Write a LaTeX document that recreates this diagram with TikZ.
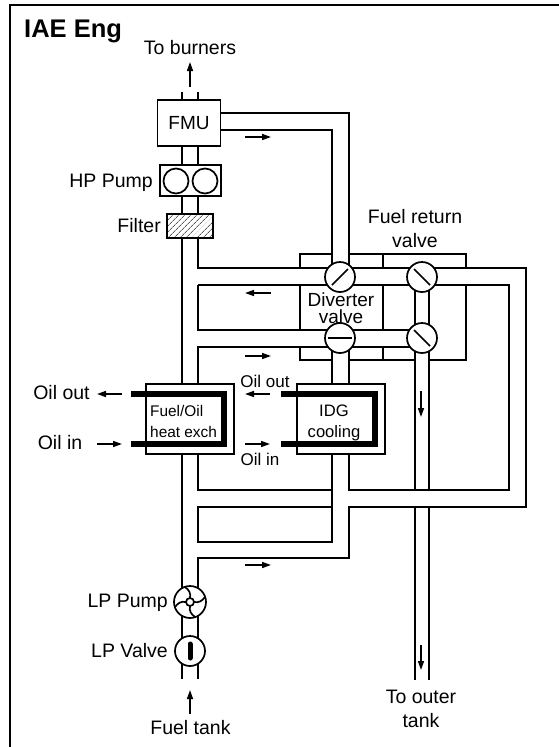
\documentclass[tikz,border=0pt]{standalone}
\usepackage{fontspec}
\setmainfont{Liberation Sans}
\usetikzlibrary{arrows.meta,patterns.meta}
\tikzset{
  pipe/.style={line width=1.7pt,line cap=butt,line join=miter},
  oil/.style={line width=6pt,line join=miter},
  flow/.style={line width=1.5pt,-{Triangle[length=9pt,width=6pt]}},
  unit/.style={draw,line width=1.7pt,fill=white,inner sep=0pt},
  valve/.style={circle,draw,line width=1.7pt,fill=white,inner sep=0pt},
  lbl/.style={inner sep=0pt,anchor=base,font=\fontsize{19.5}{20}\selectfont},
  small/.style={inner sep=0pt,anchor=base,font=\fontsize{17}{18}\selectfont},
  tiny/.style={inner sep=0pt,anchor=base west,font=\fontsize{15.4}{16}\selectfont},
}
\begin{document}
\begin{tikzpicture}[x=1pt,y=-1pt]
  \useasboundingbox (0,0) rectangle (559,747);
  \draw[line width=2pt] (10,747) -- (10,5) -- (559,5);
  % pipe walls
  \draw[pipe] (182,92) -- (182,679);
  \draw[pipe] (198,92) -- (198,268) -- (526,268) -- (526,507) -- (349,507)
    -- (349,558) -- (198,558) -- (198,679);
  \draw[pipe] (198,285) -- (509,285) -- (509,490) -- (349,490) -- (349,338);
  \draw[pipe] (198,285) -- (198,330) -- (422,330);
  \draw[pipe] (422,347) -- (198,347) -- (198,490) -- (332,490);
  \draw[pipe] (332,507) -- (198,507) -- (198,542) -- (332,542) -- (332,338);
  \draw[pipe] (221,113) -- (349,113) -- (349,277);
  \draw[pipe] (221,130) -- (332,130) -- (332,277);
  \draw[pipe] (415,277) -- (415,490);
  \draw[pipe] (429,277) -- (429,490);
  \draw[pipe] (415,507) -- (415,680);
  \draw[pipe] (429,507) -- (429,680);
  % valve blocks
  \draw[pipe] (300,268) -- (300,254) -- (332,254);
  \draw[pipe] (349,254) -- (466,254) -- (466,268);
  \draw[pipe] (383,254) -- (383,268);
  \draw[pipe] (300,285) -- (300,330);
  \draw[pipe] (383,285) -- (383,330);
  \draw[pipe] (466,285) -- (466,360) -- (429,360);
  \draw[pipe] (415,360) -- (349,360);
  \draw[pipe] (332,360) -- (300,360) -- (300,347);
  \draw[pipe] (383,347) -- (383,360);
  % units
  \node[unit,minimum width=63pt,minimum height=46pt,font=\fontsize{19}{20}\selectfont] (fmu) at (189,123) {FMU};
  \node[unit,minimum width=61pt,minimum height=31pt] (hp) at (190.5,180.5) {};
  \node[valve,minimum size=25pt] (hpa) at (176,181) {};
  \node[valve,minimum size=25pt] (hpb) at (205,181) {};
  \node[unit,minimum width=46pt,minimum height=24pt,preaction={fill=white},
    pattern={Lines[angle=45,distance=4pt,line width=.6pt]}] (filter) at (190,226) {};
  \node[unit,minimum width=88pt,minimum height=70pt] (heat) at (190,419) {};
  \node[unit,minimum width=88pt,minimum height=70pt] (idg) at (341,419) {};
  \draw[oil] (131,394) -- (224,394) -- (224,444) -- (131,444);
  \draw[oil] (281,394) -- (375,394) -- (375,444) -- (281,444);
  % valves
  \node[valve,minimum size=30pt] (dva) at (340,277) {};
  \node[valve,minimum size=30pt] (dvb) at (340,338) {};
  \node[valve,minimum size=30pt] (fra) at (422,277) {};
  \node[valve,minimum size=30pt] (frb) at (422,338) {};
  \draw[pipe] (dva) ++(-8,8) -- ++(16,-16);
  \draw[pipe] (dvb) ++(-12,0) -- ++(24,0);
  \foreach \v in {fra,frb}
    \draw[pipe] (\v) ++(-8,-8) -- ++(16,16);
  \node[valve,minimum size=32pt] (lpp) at (190,602) {};
  \foreach \a in {0,90,180,270}
    \draw[pipe,shift={(190,602)},rotate=\a] (0,-4) .. controls (1,-9) and (-1,-12) .. (-5,-15);
  \node[valve,minimum size=8pt] (hub) at (190,602) {};
  \node[valve,minimum size=30pt] (lpv) at (190,651) {};
  \draw[line width=5pt,line cap=round] (lpv) ++(0,-7) -- ++(0,14);
  % flow arrows
  \foreach \xa/\ya/\xb/\yb in {190/87/190/62, 245/137/271/137, 271/293/245/293,
      245/356/271/356, 245/565/271/565, 122/394/97/394, 97/444/122/444,
      270/394/245/394, 245/444/270/444, 421/391/421/417, 421/645/421/670,
      190/714/190/690}
    \draw[flow] (\xa,\ya) -- (\xb,\yb);
  % labels
  \node[inner sep=0pt,anchor=base west,font=\fontsize{25.5}{26}\selectfont\bfseries] (title) at (24,37) {IAE Eng};
  \node[lbl] (burners) at (190,54) {To burners};
  \node[lbl,anchor=base east] (hplab) at (153,187) {HP Pump};
  \node[lbl,anchor=base east] (filterlab) at (161,232) {Filter};
  \node[lbl] (returna) at (415,223) {Fuel return};
  \node[lbl] (returnb) at (415,247) {valve};
  \node[lbl,font=\fontsize{19}{20}\selectfont] (diverta) at (341,306) {Diverter};
  \node[lbl,font=\fontsize{19}{20}\selectfont] (divertb) at (341,323) {valve};
  \node[lbl] (oilouta) at (61.5,399) {Oil out};
  \node[lbl] (oilina) at (60,449) {Oil in};
  \node[small] (oiloutb) at (265,387) {Oil out};
  \node[small] (oilinb) at (260,465) {Oil in};
  \node[tiny] (heata) at (150,416) {Fuel/Oil};
  \node[tiny] (heatb) at (150,437) {heat exch};
  \node[small,font=\fontsize{16.6}{17}\selectfont] (idga) at (334,416) {IDG};
  \node[small,font=\fontsize{16.6}{17}\selectfont] (idgb) at (334,437) {cooling};
  \node[lbl,anchor=base east] (lpplab) at (168,607) {LP Pump};
  \node[lbl,anchor=base east] (lpvlab) at (168,657) {LP Valve};
  \node[lbl] (tank) at (190.5,734) {Fuel tank};
  \node[lbl] (outera) at (421,703) {To outer};
  \node[lbl] (outerb) at (421,727) {tank};
\end{tikzpicture}
\end{document}
